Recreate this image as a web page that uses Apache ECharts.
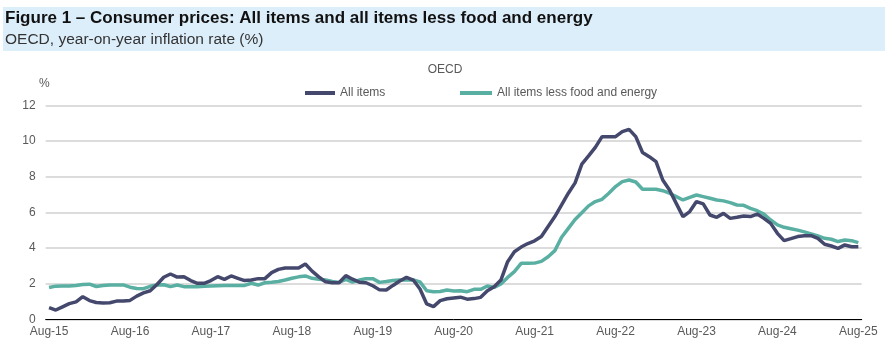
<!DOCTYPE html>
<html><head><meta charset="utf-8">
<script src="https://cdn.jsdelivr.net/npm/echarts@6/dist/echarts.min.js"></script>
<style>html,body{margin:0;padding:0;background:#fff}#c{width:890px;height:356px}</style>
</head><body><div id="c"></div>
<script>
// Monthly categories Aug-15 .. Aug-25
const monthNames = ['Jan','Feb','Mar','Apr','May','Jun','Jul','Aug','Sep','Oct','Nov','Dec'];
const categories = [];
for (let y = 2015, m = 7; !(y === 2025 && m === 8); ) {
  categories.push(monthNames[m] + '-' + String(y).slice(2));
  m++; if (m === 12) { m = 0; y++; }
}
const allItems = [
 0.66,0.52,0.70,0.88,0.98,1.27,1.05,0.94,0.92,0.93,1.02,1.03,
 1.06,1.30,1.48,1.60,1.95,2.36,2.54,2.37,2.39,2.17,2.02,2.02,
 2.17,2.39,2.24,2.43,2.30,2.17,2.20,2.28,2.28,2.62,2.80,2.88,
 2.88,2.88,3.10,2.70,2.38,2.10,2.05,2.05,2.45,2.25,2.08,2.05,
 1.88,1.65,1.64,1.90,2.15,2.35,2.20,1.70,0.86,0.71,1.05,1.15,
 1.20,1.24,1.13,1.16,1.23,1.60,1.83,2.20,3.23,3.79,4.05,4.25,
 4.40,4.64,5.20,5.76,6.41,7.07,7.65,8.70,9.16,9.64,10.24,10.24,
 10.24,10.52,10.65,10.24,9.35,9.12,8.84,7.81,7.25,6.50,5.76,6.04,
 6.60,6.47,5.85,5.72,5.94,5.66,5.72,5.79,5.76,5.90,5.66,5.38,
 4.82,4.41,4.52,4.64,4.68,4.69,4.54,4.21,4.11,3.98,4.17,4.07,
 4.07
];
const lessFoodEnergy = [
 1.78,1.86,1.87,1.87,1.90,1.95,1.97,1.84,1.90,1.92,1.93,1.93,
 1.80,1.73,1.72,1.85,1.92,1.94,1.83,1.92,1.83,1.83,1.83,1.85,
 1.87,1.88,1.89,1.90,1.90,1.90,2.02,1.92,2.05,2.08,2.12,2.20,
 2.30,2.38,2.43,2.30,2.24,2.20,2.12,2.07,2.24,2.09,2.20,2.28,
 2.28,2.07,2.12,2.18,2.20,2.20,2.20,2.10,1.60,1.55,1.56,1.64,
 1.59,1.60,1.55,1.68,1.68,1.87,1.79,1.98,2.35,2.67,3.14,3.14,
 3.15,3.25,3.51,3.85,4.60,5.10,5.60,5.98,6.36,6.60,6.73,7.07,
 7.44,7.72,7.81,7.70,7.29,7.29,7.29,7.21,7.07,6.88,6.69,6.84,
 6.97,6.88,6.79,6.69,6.64,6.54,6.41,6.39,6.22,6.09,5.90,5.57,
 5.29,5.16,5.08,5.00,4.90,4.79,4.67,4.54,4.49,4.36,4.45,4.41,
 4.30
];
const seriesNames = ['All items', 'All items less food and energy'];
const yTicks = [0, 2, 4, 6, 8, 10, 12];

const NAVY = '#45486d', TEAL = '#5aafa3', TXT = '#595959';
const FONT = '"Liberation Sans", Arial, sans-serif';
const chart = echarts.init(document.getElementById('c'), null, {renderer: 'canvas'});
chart.setOption({
  animation: false,
  textStyle: {fontFamily: FONT},
  graphic: [
    {type: 'rect', left: 3, top: 7, shape: {width: 882, height: 44}, style: {fill: '#ddeefb'}, silent: true}
  ],
  title: [
    {text: 'Figure 1 – Consumer prices: All items and all items less food and energy', left: 5, top: 10, padding: 0,
     textStyle: {fontWeight: 'bold', fontSize: 17, color: '#111'}},
    {text: 'OECD, year-on-year inflation rate (%)', left: 5, top: 32, padding: 0,
     textStyle: {fontWeight: 'normal', fontSize: 15.5, color: '#333'}},
    {text: 'OECD', left: 'center', top: 64, padding: 0, textStyle: {fontSize: 12, fontWeight: 'normal', color: TXT}},
    {text: '%', left: 39, top: 78, padding: 0, textStyle: {fontSize: 12, fontWeight: 'normal', color: TXT}}
  ],
  legend: [
    {data: [seriesNames[0]], left: 305, top: 87, padding: 0, itemWidth: 30, itemHeight: 4, icon: 'rect',
     textStyle: {color: TXT, fontSize: 12}},
    {data: [seriesNames[1]], left: 460, top: 87, padding: 0, itemWidth: 32, itemHeight: 4, icon: 'rect',
     textStyle: {color: TXT, fontSize: 12}}
  ],
  grid: {left: 45.7, right: 28.3, top: 105.3, bottom: 36.7, containLabel: false},
  xAxis: {
    type: 'category', data: categories, boundaryGap: true,
    axisLine: {lineStyle: {color: '#000', width: 1}},
    axisTick: {interval: (i) => i % 12 === 0, length: 5, lineStyle: {color: '#000'}},
    axisLabel: {interval: (i) => i % 12 === 0, color: TXT, fontSize: 12, margin: 6}
  },
  yAxis: {
    type: 'value', min: yTicks[0], max: yTicks[yTicks.length - 1], interval: 2,
    axisLine: {show: false}, axisTick: {show: false},
    axisLabel: {color: TXT, fontSize: 12, margin: 10},
    splitLine: {lineStyle: {color: '#d0d0d0', width: 1.5}}
  },
  series: [
    {name: seriesNames[0], type: 'line', data: allItems, symbol: 'none', z: 3,
     lineStyle: {color: NAVY, width: 3.5}, itemStyle: {color: NAVY}},
    {name: seriesNames[1], type: 'line', data: lessFoodEnergy, symbol: 'none', z: 2,
     lineStyle: {color: TEAL, width: 3.5}, itemStyle: {color: TEAL}}
  ]
});
</script></body></html>
